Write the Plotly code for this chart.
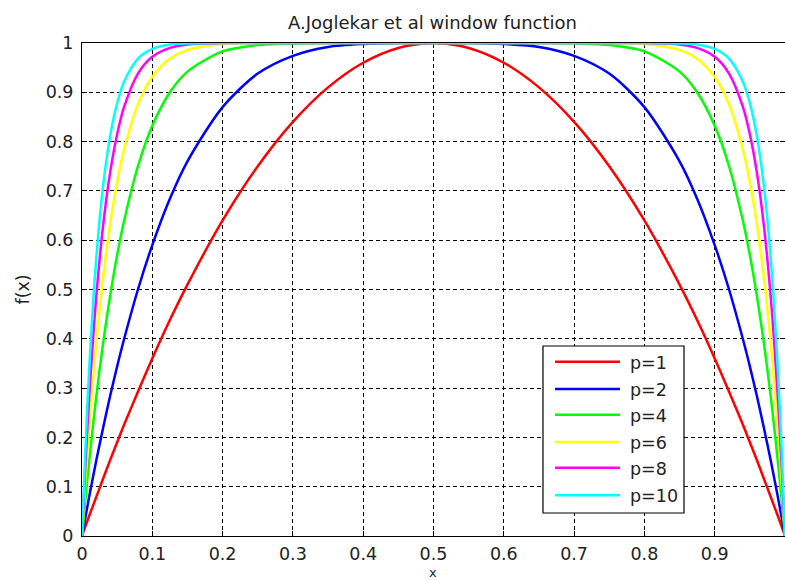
import plotly.graph_objects as go

# Joglekar window f(x) for several values of p, sampled along x
x_vals = [0, 0.005, 0.01, 0.02, 0.03, 0.04, 0.05, 0.06, 0.08, 0.1, 0.125, 0.15,
          0.2, 0.25, 0.3, 0.35, 0.4, 0.45, 0.5, 0.55, 0.6, 0.65, 0.7, 0.75, 0.8,
          0.85, 0.875, 0.9, 0.92, 0.94, 0.95, 0.96, 0.97, 0.98, 0.99, 0.995, 1]

f_p1 = [0, 0.020, 0.040, 0.078, 0.116, 0.154, 0.190, 0.226, 0.294, 0.360, 0.438, 0.510,
        0.640, 0.750, 0.840, 0.910, 0.960, 0.990, 1.000, 0.990, 0.960, 0.910, 0.840, 0.750,
        0.640, 0.510, 0.438, 0.360, 0.294, 0.226, 0.190, 0.154, 0.116, 0.078, 0.040, 0.020, 0]
f_p2 = [0, 0.039, 0.078, 0.151, 0.219, 0.284, 0.344, 0.400, 0.502, 0.590, 0.684, 0.760,
        0.870, 0.938, 0.974, 0.992, 0.998, 1.000, 1.000, 1.000, 0.998, 0.992, 0.974, 0.938,
        0.870, 0.760, 0.684, 0.590, 0.502, 0.400, 0.344, 0.284, 0.219, 0.151, 0.078, 0.039, 0]
f_p4 = [0, 0.077, 0.149, 0.279, 0.391, 0.487, 0.570, 0.640, 0.752, 0.832, 0.900, 0.942,
        0.983, 0.996, 0.999, 1, 1, 1, 1, 1, 1, 1, 0.999, 0.996,
        0.983, 0.942, 0.900, 0.832, 0.752, 0.640, 0.570, 0.487, 0.391, 0.279, 0.149, 0.077, 0]
f_p6 = [0, 0.114, 0.215, 0.387, 0.524, 0.632, 0.718, 0.784, 0.877, 0.931, 0.968, 0.986,
        0.998, 1, 1, 1, 1, 1, 1, 1, 1, 1, 1, 1,
        0.998, 0.986, 0.968, 0.931, 0.877, 0.784, 0.718, 0.632, 0.524, 0.387, 0.215, 0.114, 0]
f_p8 = [0, 0.149, 0.276, 0.480, 0.629, 0.737, 0.815, 0.871, 0.939, 0.972, 0.990, 0.997,
        1, 1, 1, 1, 1, 1, 1, 1, 1, 1, 1, 1,
        1, 0.997, 0.990, 0.972, 0.939, 0.871, 0.815, 0.737, 0.629, 0.480, 0.276, 0.149, 0]
f_p10 = [0, 0.182, 0.332, 0.558, 0.710, 0.811, 0.878, 0.922, 0.969, 0.988, 0.997, 0.999,
         1, 1, 1, 1, 1, 1, 1, 1, 1, 1, 1, 1,
         1, 0.999, 0.997, 0.988, 0.969, 0.922, 0.878, 0.811, 0.710, 0.558, 0.332, 0.182, 0]

series_names = ["p=1", "p=2", "p=4", "p=6", "p=8", "p=10"]
series_values = [f_p1, f_p2, f_p4, f_p6, f_p8, f_p10]
series_colors = ["#ff0000", "#0000ff", "#00ff00", "#ffff00", "#ff00ff", "#00ffff"]

x_ticks = [0, 0.1, 0.2, 0.3, 0.4, 0.5, 0.6, 0.7, 0.8, 0.9]
x_tick_labels = ["0", "0.1", "0.2", "0.3", "0.4", "0.5", "0.6", "0.7", "0.8", "0.9"]
y_ticks = [0, 0.1, 0.2, 0.3, 0.4, 0.5, 0.6, 0.7, 0.8, 0.9, 1]
y_tick_labels = ["0", "0.1", "0.2", "0.3", "0.4", "0.5", "0.6", "0.7", "0.8", "0.9", "1"]

W, H = 785, 580
ML, MR, MT, MB = 82, 0, 43, 44
PW, PH = W - ML - MR, H - MT - MB
FONT = "DejaVu Sans"


def px_x(px):
    return (px - ML) / PW


def px_y(py):
    return (H - MB - py) / PH


fig = go.Figure()
for name, vals, col in zip(series_names, series_values, series_colors):
    fig.add_trace(go.Scatter(
        x=x_vals, y=vals, mode="lines", name=name,
        line=dict(color=col, width=2.5, shape="spline", smoothing=0.8),
        showlegend=False,
    ))

axis_common = dict(
    showline=True, linecolor="black", linewidth=1, mirror="ticks",
    ticks="inside", ticklen=5, tickcolor="black", tickwidth=1,
    showgrid=True, gridcolor="black", gridwidth=1, griddash="4px,3px",
    zeroline=False, layer="below traces",
    tickfont=dict(family=FONT, size=17.5, color="#222222"),
)

fig.update_xaxes(range=[0, 1], tickvals=x_ticks, ticktext=x_tick_labels,
                 ticklabelstandoff=2, **axis_common)
fig.update_yaxes(range=[0, 1], tickvals=y_ticks, ticktext=y_tick_labels,
                 ticklabelstandoff=4, **axis_common)

# boxed legend in the lower right of the axes
shapes = [dict(type="rect", xref="paper", yref="paper",
               x0=px_x(543), x1=px_x(684), y0=px_y(513), y1=px_y(346),
               line=dict(color="black", width=1.2), fillcolor="white", layer="above")]
annotations = []
row_y = [361.7, 389, 414.7, 442, 467.7, 495.3]
for name, col, ry in zip(series_names, series_colors, row_y):
    shapes.append(dict(type="line", xref="paper", yref="paper",
                       x0=px_x(555), x1=px_x(620), y0=px_y(ry), y1=px_y(ry),
                       line=dict(color=col, width=2.5), layer="above"))
    annotations.append(dict(x=px_x(628), y=px_y(ry + 1), xref="paper", yref="paper",
                            text=name, showarrow=False, xanchor="left", yanchor="middle",
                            font=dict(family=FONT, size=17.5, color="#222222")))

annotations.append(dict(x=px_x(22), y=0.5, xref="paper", yref="paper", text="f(x)",
                        showarrow=False, textangle=-90, xanchor="center", yanchor="middle",
                        font=dict(family=FONT, size=17.5, color="#222222")))
annotations.append(dict(x=px_x(433), y=px_y(582), xref="paper", yref="paper", text="x",
                        showarrow=False, xanchor="center", yanchor="bottom",
                        font=dict(family=FONT, size=13, color="#222222")))
annotations.append(dict(x=px_x(432), y=px_y(22), xref="paper", yref="paper",
                        text="A.Joglekar et al window function",
                        showarrow=False, xanchor="center", yanchor="middle",
                        font=dict(family=FONT, size=18, color="#222222")))

fig.update_layout(
    width=W, height=H,
    margin=dict(l=ML, r=MR, t=MT, b=MB),
    paper_bgcolor="white", plot_bgcolor="white",
    shapes=shapes, annotations=annotations,
    showlegend=False,
)

fig.write_html("out.html")
